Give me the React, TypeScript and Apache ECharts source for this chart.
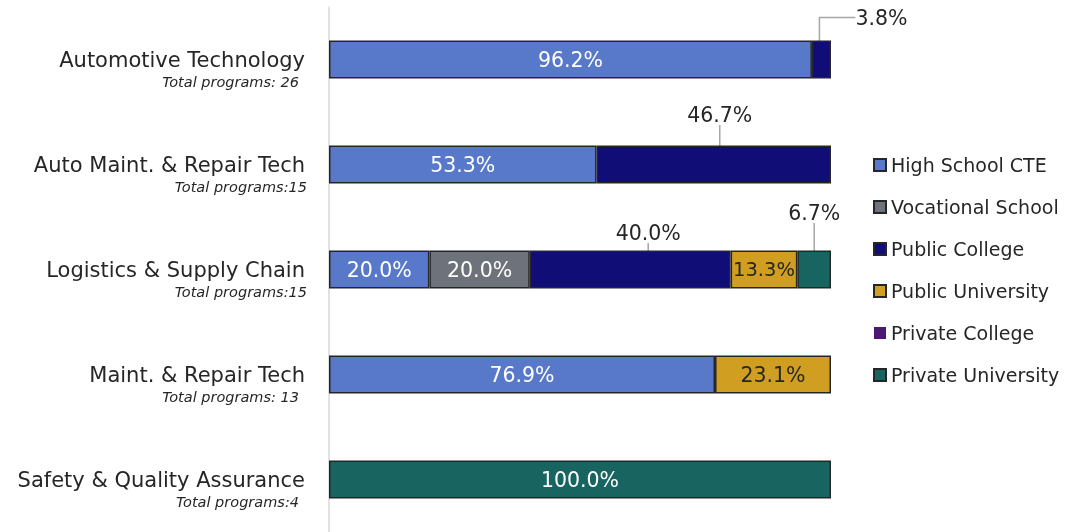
import React, { useEffect, useRef } from "react";
import * as echarts from "echarts";

const categories = [
  "Automotive Technology",
  "Auto Maint. & Repair Tech",
  "Logistics & Supply Chain",
  "Maint. & Repair Tech",
  "Safety & Quality Assurance",
];
const totalLabels = [
  "Total programs: 26",
  "Total programs:15",
  "Total programs:15",
  "Total programs: 13",
  "Total programs:4",
];
const highSchoolCTE = [96.2, 53.3, 20.0, 76.9, null];
const vocationalSchool = [null, null, 20.0, null, null];
const publicCollege = [3.8, 46.7, 40.0, null, null];
const publicUniversity = [null, null, 13.3, 23.1, null];
const privateCollege = [null, null, null, null, null];
const privateUniversity = [null, null, 6.7, null, 100.0];

const FONT = "DejaVu Sans";

export default function App() {
  const ref = useRef<HTMLDivElement>(null);
  useEffect(() => {
    const chart = echarts.init(ref.current!, null, { renderer: "svg" });
    const outsideMoves: Record<string, Record<number, [number, number, number]>> = {
      "Public College": { 0: [60, -42, 36], 1: [6, -50, 0], 2: [18, -37, 0] },
      "Private University": { 2: [0, -57, 0] },
    };
    const mk = (name: string, values: (number | null)[], color: string, darkText = false, bw = 1.5) => {
      const moves = outsideMoves[name] || {};
      return {
        name,
        type: "bar",
        stack: "total",
        barWidth: 38,
        itemStyle: { color, borderColor: "#262626", borderWidth: bw },
        label: {
          show: true,
          position: "inside",
          color: darkText ? "#262626" : "#ffffff",
          fontFamily: FONT,
          fontSize: 20.5,
          formatter: (p: any) => (p.value == null ? "" : Number(p.value).toFixed(1) + "%"),
        },
        labelLayout: (p: any) => {
          const m = moves[p.dataIndex];
          return m ? { dx: m[0], dy: m[1] } : {};
        },
        data: values.map((v, i) => {
          if (moves[i]) {
            return {
              value: v,
              label: { color: "#262626" },
              labelLine: { show: true, length2: moves[i][2], lineStyle: { color: "#a6a6a6", width: 1.5 } },
            };
          }
          if (v != null && v < 15) {
            return { value: v, label: { fontSize: 19.5 } };
          }
          return v;
        }),
      };
    };
    chart.setOption({
      animation: false,
      textStyle: { fontFamily: FONT },
      grid: { left: 329, right: 247, top: 7, height: 525 },
      xAxis: { type: "value", min: 0, max: 100, show: false },
      yAxis: {
        type: "category",
        inverse: true,
        data: categories,
        axisLine: { show: true, lineStyle: { color: "#d9d9d9", width: 1.5 } },
        axisTick: { show: false },
        splitLine: { show: false },
        axisLabel: {
          margin: 22,
          padding: [20, 0, 0, 0],
          formatter: (v: string, i: number) =>
            `{name|${v}}\n{${i === 1 || i === 2 ? "subB" : "sub"}|${totalLabels[i]}}`,
          rich: {
            name: { fontFamily: FONT, fontSize: 21, color: "#262626", lineHeight: 24, padding: [0, 2, 0, 0] },
            sub: { fontFamily: FONT, fontSize: 14.5, fontStyle: "italic", color: "#262626", lineHeight: 20, padding: [0, 8, 0, 0] },
            subB: { fontFamily: FONT, fontSize: 14.5, fontStyle: "italic", color: "#262626", lineHeight: 20, padding: [0, 0, 0, 0] },
          },
        },
      },
      legend: {
        orient: "vertical",
        left: 868,
        top: 150,
        itemWidth: 12,
        itemHeight: 12,
        itemGap: 22,
        icon: "rect",
        textStyle: { fontFamily: FONT, fontSize: 19, color: "#262626", lineHeight: 20 },
        data: ["High School CTE", "Vocational School", "Public College", "Public University", "Private College", "Private University"],
      },
      series: [
        mk("High School CTE", highSchoolCTE, "#5879CA"),
        mk("Vocational School", vocationalSchool, "#6E727A"),
        mk("Public College", publicCollege, "#110D76"),
        mk("Public University", publicUniversity, "#D09F22", true),
        mk("Private College", privateCollege, "#4A196F", false, 0),
        mk("Private University", privateUniversity, "#176461"),
      ],
    });
    return () => chart.dispose();
  }, []);
  return <div ref={ref} style={{ position: "fixed", left: 0, top: 0, width: 1078, height: 532 }} />;
}
